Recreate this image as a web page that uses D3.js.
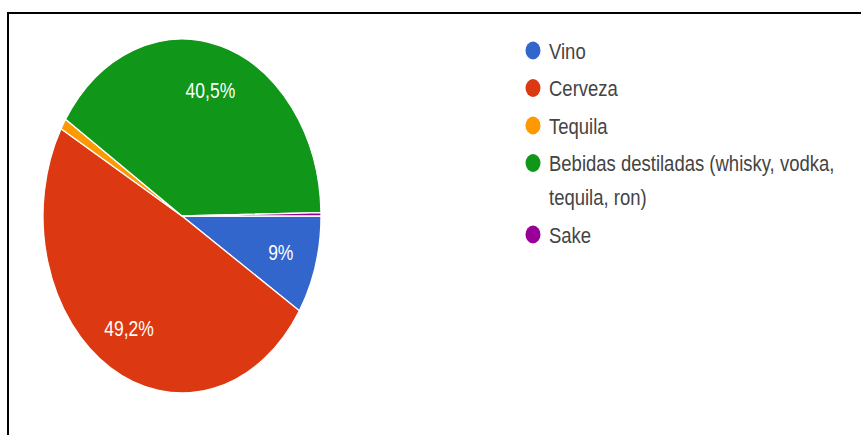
<!DOCTYPE html>
<html>
<head>
<meta charset="utf-8">
<script src="https://cdn.jsdelivr.net/npm/d3@7/dist/d3.min.js"></script>
<style>
  html, body { margin: 0; padding: 0; background: #fff; }
  svg { display: block; }
</style>
</head>
<body>
<svg id="chart" width="861" height="435"></svg>
<script>
// Drink preferences, share of responses (%)
const categories = ["Vino", "Cerveza", "Tequila", "Bebidas destiladas (whisky, vodka, tequila, ron)", "Sake"];
const values = [9, 49.2, 1.0, 40.5, 0.3];
const labelsShown = ["9%", "49,2%", "", "40,5%", ""];
const colors = ["#3366cc", "#dc3912", "#ff9900", "#109618", "#990099"];

const svg = d3.select("#chart");
const W = 861, H = 435;

svg.append("rect").attr("width", W).attr("height", H).attr("fill", "#fff");

// frame lines (top and left edges)
svg.append("line").attr("x1", 7).attr("x2", W).attr("y1", 13).attr("y2", 13)
  .attr("stroke", "#000").attr("stroke-width", 2);
svg.append("line").attr("x1", 8).attr("x2", 8).attr("y1", 12).attr("y2", H)
  .attr("stroke", "#000").attr("stroke-width", 2);

// pie geometry: circular pie, stretched vertically
const cx = 182, cy = 216, r = 139, sy = 1.273;
const textSy = 1.24;
const fontFamily = "'Liberation Sans', Arial, sans-serif";

const data = categories.map((c, i) => ({ name: c, value: values[i], label: labelsShown[i], color: colors[i] }));

const pie = d3.pie().value(d => d.value).sort(null)
  .startAngle(Math.PI / 2).endAngle(Math.PI / 2 + 2 * Math.PI);
const arcs = pie(data);

const arc = d3.arc().innerRadius(0).outerRadius(r);
const labelArc = d3.arc().innerRadius(r * 0.74).outerRadius(r * 0.74);

const pieG = svg.append("g").attr("transform", `translate(${cx},${cy}) scale(1,${sy})`);
pieG.selectAll("path.slice").data(arcs).join("path")
  .attr("class", "slice")
  .attr("d", arc)
  .attr("fill", d => d.data.color)
  .attr("stroke", "#fff")
  .attr("stroke-width", 1.3)
  .attr("vector-effect", "non-scaling-stroke");

// percentage labels inside slices
svg.selectAll("text.pct").data(arcs.filter(d => d.data.label)).join("text")
  .attr("class", "pct")
  .attr("transform", d => {
    const c = labelArc.centroid(d);
    return `translate(${cx + c[0]},${cy + c[1] * sy}) scale(1,${textSy})`;
  })
  .attr("text-anchor", "middle")
  .attr("dy", "0.36em")
  .attr("font-family", fontFamily)
  .attr("font-size", 17.5)
  .attr("fill", "#fff")
  .text(d => d.data.label);

// legend
const legendX = 533, legendTextX = 549, legendTop = 50.5, rowStep = 37.5, lineStep = 34, maxTextW = 305;
const legend = svg.append("g");
let y = legendTop;
data.forEach((d, i) => {
  legend.append("ellipse")
    .attr("cx", legendX).attr("cy", y)
    .attr("rx", 7.5).attr("ry", 9)
    .attr("fill", d.color);

  // word wrap the label to the legend width
  const words = d.name.split(" ");
  const lines = [];
  let cur = "";
  const probe = legend.append("text").attr("font-family", fontFamily).attr("font-size", 18.5);
  words.forEach(w => {
    const test = cur ? cur + " " + w : w;
    probe.text(test);
    if (probe.node().getComputedTextLength() > maxTextW && cur) {
      lines.push(cur);
      cur = w;
    } else {
      cur = test;
    }
  });
  lines.push(cur);
  probe.remove();

  lines.forEach((ln, k) => {
    legend.append("text")
      .attr("transform", `translate(${legendTextX},${y + k * lineStep}) scale(1,${textSy})`)
      .attr("dy", "0.36em")
      .attr("font-family", fontFamily)
      .attr("font-size", 18.5)
      .attr("fill", "#444")
      .text(ln);
  });
  y += rowStep + (lines.length - 1) * lineStep;
});
</script>
</body>
</html>
